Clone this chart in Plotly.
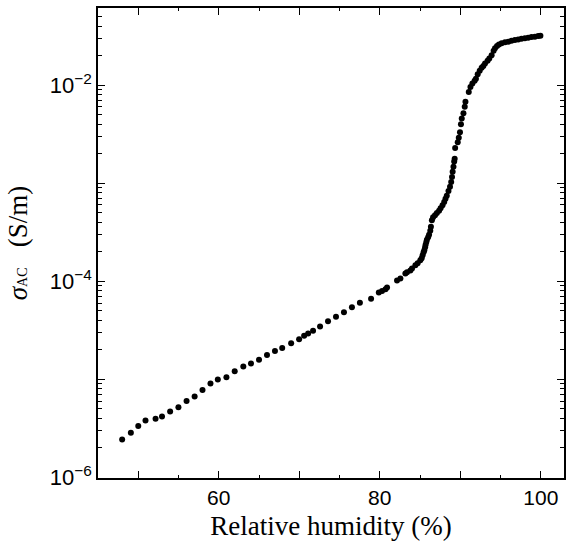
import plotly.graph_objects as go

# Relative humidity (%)
rh = [48.0, 49.08, 50.0, 50.9, 52.15, 52.95, 53.96, 54.99, 56.0, 57.0, 57.98, 58.97, 59.88,
      60.95, 61.98, 63.05, 64.0, 65.0, 65.99, 66.98, 67.88, 68.99, 69.98,
      70.6, 71.1, 71.71, 72.58, 73.57, 74.56, 75.55, 76.54, 77.53, 78.92,
      79.88, 80.28, 80.71, 80.9, 82.14, 82.56, 83.18, 83.38, 83.8, 84.0, 84.42, 84.7,
      85.03, 85.2, 85.32, 85.44, 85.53, 85.63, 85.69, 85.78, 85.85, 86.0, 86.12, 86.27,
      86.35, 86.47, 86.62, 86.86, 87.09, 87.36, 87.55, 87.79, 88.0, 88.16, 88.32, 88.53,
      88.72, 88.87, 88.97, 89.05, 89.15, 89.24, 89.3, 89.36, 89.68, 89.81, 89.96, 90.08,
      90.18, 90.39, 90.55, 90.64, 91.05, 91.26, 91.5, 91.78, 91.94, 92.16, 92.41, 92.65,
      92.86, 93.07, 93.39, 93.6, 93.89, 94.14, 94.31, 94.56, 94.8, 95.13, 95.55, 95.96,
      96.36, 96.78, 97.19, 97.6, 98.02, 98.43, 98.84, 99.26, 99.67, 99.95]

# AC conductivity (S/m)
sigma_ac = [2.44e-6, 2.86e-6, 3.36e-6, 3.82e-6, 3.97e-6, 4.19e-6, 4.71e-6, 5.21e-6, 6.01e-6,
            6.71e-6, 7.78e-6, 9.06e-6, 1.0e-5,
            1.05e-5, 1.21e-5, 1.35e-5, 1.45e-5, 1.59e-5, 1.77e-5, 1.95e-5, 2.09e-5, 2.33e-5, 2.57e-5,
            2.78e-5, 2.94e-5, 3.13e-5, 3.47e-5, 3.91e-5, 4.35e-5, 4.83e-5, 5.43e-5, 6.04e-5, 6.66e-5,
            7.67e-5, 7.96e-5, 8.28e-5, 8.63e-5, 1.02e-4, 1.07e-4, 1.20e-4, 1.24e-4, 1.29e-4, 1.35e-4,
            1.46e-4, 1.53e-4,
            1.64e-4, 1.72e-4, 1.84e-4, 1.98e-4, 2.07e-4, 2.22e-4, 2.36e-4, 2.52e-4, 2.65e-4, 2.81e-4,
            2.98e-4, 3.27e-4,
            3.60e-4, 4.19e-4, 4.50e-4, 4.71e-4, 4.98e-4, 5.24e-4, 5.56e-4, 5.97e-4, 6.45e-4, 6.95e-4,
            7.45e-4, 8.34e-4,
            9.20e-4, 1.03e-3, 1.16e-3, 1.31e-3, 1.47e-3, 1.66e-3, 1.78e-3, 2.29e-3, 2.62e-3, 2.91e-3,
            3.31e-3, 4.00e-3,
            4.57e-3, 5.18e-3, 6.01e-3, 6.76e-3, 8.49e-3, 9.55e-3, 1.04e-2, 1.11e-2, 1.16e-2, 1.29e-2,
            1.40e-2, 1.50e-2,
            1.57e-2, 1.66e-2, 1.77e-2, 1.87e-2, 2.02e-2, 2.24e-2, 2.37e-2, 2.50e-2, 2.60e-2, 2.67e-2,
            2.73e-2, 2.77e-2,
            2.83e-2, 2.88e-2, 2.92e-2, 2.97e-2, 3.00e-2, 3.04e-2, 3.09e-2, 3.11e-2, 3.16e-2, 3.18e-2]

x_tickvals = [50, 60, 70, 80, 90, 100]
x_ticktext = ["", "60", "", "80", "", "100"]
x_minor = [45, 55, 65, 75, 85, 95]

y_tickvals = [1e-6, 1e-5, 1e-4, 1e-3, 1e-2]
y_ticktext = ["10<sup>\u22126</sup>", "", "10<sup>\u22124</sup>", "", "10<sup>\u22122</sup>"]
y_minor = [m * 10.0 ** e for e in range(-7, -1) for m in range(2, 10)]

fig = go.Figure()
fig.add_trace(go.Scatter(
    x=rh, y=sigma_ac, mode="markers",
    marker=dict(color="black", size=6, line=dict(width=0)),
    showlegend=False,
))

axis_common = dict(
    showline=True, linecolor="black", linewidth=1.5, mirror="ticks",
    ticks="inside", tickcolor="black", tickwidth=1.2, ticklen=7,
    showgrid=False, zeroline=False,
)

fig.update_layout(
    width=566, height=549,
    margin=dict(l=98, r=0, t=8, b=71),
    paper_bgcolor="white", plot_bgcolor="white",
    xaxis=dict(
        range=[45, 102.88],
        tickmode="array", tickvals=x_tickvals, ticktext=x_ticktext,
        tickfont=dict(family="Liberation Sans, Arial, sans-serif", size=21, color="black"),
        minor=dict(tickmode="array", tickvals=x_minor, ticks="inside", ticklen=3.5,
                   tickcolor="black", tickwidth=1.2, showgrid=False),
        title=dict(text="Relative humidity (%)",
                   font=dict(family="Liberation Serif, Times New Roman, serif", size=27, color="black"),
                   standoff=8),
        **axis_common,
    ),
    yaxis=dict(
        type="log", range=[-6.005, -1.214],
        tickmode="array", tickvals=y_tickvals, ticktext=y_ticktext,
        tickfont=dict(family="Liberation Sans, Arial, sans-serif", size=22, color="black"),
        minor=dict(tickmode="array", tickvals=y_minor, ticks="inside", ticklen=4,
                   tickcolor="black", tickwidth=1.2, showgrid=False),
        title=dict(text="<i>\u03c3</i><span style='font-size:14px'>AC</span>\u00a0\u00a0\u00a0(S/m)",
                   font=dict(family="Liberation Serif, Times New Roman, serif", size=27, color="black"),
                   standoff=14),
        **axis_common,
    ),
)

fig.write_html("out.html")
